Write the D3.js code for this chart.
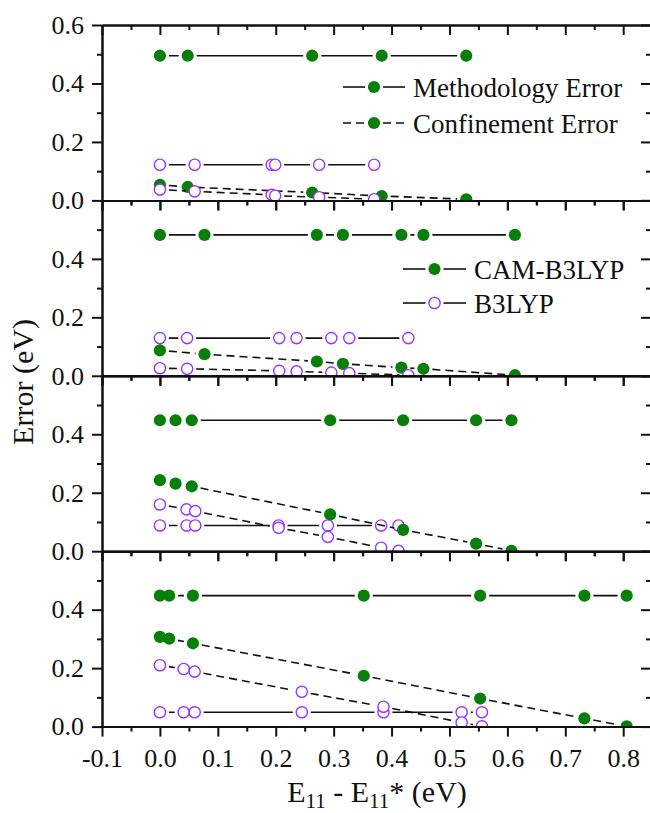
<!DOCTYPE html>
<html>
<head>
<meta charset="utf-8">
<script src="https://cdn.jsdelivr.net/npm/d3@7"></script>
<style>
  body { margin: 0; background: #fff; }
  svg { display: block; font-family: "Liberation Serif", "Times New Roman", serif; }
  .axis path, .axis line { stroke: #111; stroke-width: 2; }
</style>
</head>
<body>
<div id="chart"></div>
<script>
// x positions (E11 - E11*) per panel, top to bottom
var camX = [
  [0, 0.048, 0.263, 0.383, 0.529],
  [0, 0.077, 0.271, 0.316, 0.417, 0.455, 0.613],
  [0, 0.027, 0.055, 0.294, 0.420, 0.546, 0.607],
  [0, 0.016, 0.057, 0.352, 0.553, 0.733, 0.806]
];
var camMethodology = [
  [0.495, 0.495, 0.495, 0.495, 0.495],
  [0.482, 0.482, 0.482, 0.482, 0.482, 0.482, 0.482],
  [0.448, 0.448, 0.448, 0.448, 0.448, 0.448, 0.448],
  [0.448, 0.448, 0.448, 0.448, 0.448, 0.448, 0.448]
];
var camConfinement = [
  [0.053, 0.046, 0.027, 0.015, 0.004],
  [0.087, 0.074, 0.049, 0.041, 0.028, 0.024, 0.002],
  [0.243, 0.231, 0.222, 0.126, 0.073, 0.026, 0.001],
  [0.307, 0.301, 0.285, 0.174, 0.096, 0.028, 0.001]
];
var b3lypX = [
  [0, 0.060, 0.193, 0.199, 0.275, 0.370],
  [0, 0.047, 0.206, 0.236, 0.296, 0.327, 0.429],
  [0, 0.046, 0.061, 0.205, 0.290, 0.382, 0.412],
  [0, 0.041, 0.060, 0.245, 0.386, 0.521, 0.556]
];
var b3lypMethodology = [
  [0.122, 0.122, 0.122, 0.122, 0.122, 0.122],
  [0.129, 0.129, 0.129, 0.129, 0.129, 0.129, 0.129],
  [0.088, 0.088, 0.088, 0.088, 0.088, 0.088, 0.088],
  [0.049, 0.049, 0.049, 0.049, 0.049, 0.049, 0.049]
];
var b3lypConfinement = [
  [0.037, 0.031, 0.019, 0.016, 0.011, 0.004],
  [0.026, 0.024, 0.017, 0.015, 0.011, 0.009, 0.002],
  [0.160, 0.143, 0.137, 0.080, 0.049, 0.012, 0.001],
  [0.210, 0.197, 0.188, 0.119, 0.068, 0.014, 0.001]
];

var xMajor = [-0.1, 0, 0.1, 0.2, 0.3, 0.4, 0.5, 0.6, 0.7, 0.8];
var xMinor = [-0.05, 0.05, 0.15, 0.25, 0.35, 0.45, 0.55, 0.65, 0.75];
var yMajor = [0, 0.2, 0.4, 0.6];
var yMinor = [0.1, 0.3, 0.5];

var W = 650, H = 813;
var plotLeft = 102, plotRight = 651, plotTop = 25, panelH = 175.4;
var green = "#087f08", violet = "#9933ff";
var R = 6.1, GAP = 9;
var serif = "'Liberation Serif', 'Times New Roman', serif";

var svg = d3.select("#chart").append("svg")
  .attr("width", W).attr("height", H);

var x = d3.scaleLinear().domain([-0.1, 0.848]).range([plotLeft, plotRight]);

// one decimal, plain hyphen for negatives
var fmt = function (d) { return d3.format(".1f")(d).replace("\u2212", "-"); };

// line through points, broken around each symbol
function gappedLine(g, pts, dash) {
  for (var i = 0; i < pts.length - 1; i++) {
    var a = pts[i], b = pts[i + 1];
    var dx = b[0] - a[0], dy = b[1] - a[1];
    var d = Math.sqrt(dx * dx + dy * dy);
    if (d <= 2 * GAP) continue;
    var ux = dx / d, uy = dy / d;
    g.append("line")
      .attr("x1", a[0] + ux * GAP).attr("y1", a[1] + uy * GAP)
      .attr("x2", b[0] - ux * GAP).attr("y2", b[1] - uy * GAP)
      .attr("stroke", "#111").attr("stroke-width", 1.6)
      .attr("stroke-dasharray", dash ? "8,5" : null);
  }
}

function symbols(g, pts, filled) {
  g.selectAll(null).data(pts).enter().append("circle")
    .attr("cx", function (d) { return d[0]; })
    .attr("cy", function (d) { return d[1]; })
    .attr("r", filled ? R : 5.6)
    .attr("fill", filled ? green : "#fff")
    .attr("stroke", filled ? "none" : violet)
    .attr("stroke-width", 1.4);
}

function series(g, xs, ys, y, dash, filled) {
  var pts = xs.map(function (v, i) { return [x(v), y(ys[i])]; });
  gappedLine(g, pts, dash);
  symbols(g, pts, filled);
}

function axisGroup(tx, ty, axis) {
  var g = svg.append("g").attr("class", "axis")
    .attr("transform", "translate(" + tx + "," + ty + ")")
    .call(axis);
  g.attr("font-family", serif).attr("font-size", 26);
  g.selectAll("text").attr("fill", "#111");
  return g;
}

camX.forEach(function (xs, p) {
  var y0 = plotTop + p * panelH;
  var y = d3.scaleLinear().domain([0, 0.6]).range([y0 + panelH, y0]);
  var clipId = "clip" + p;
  svg.append("clipPath").attr("id", clipId).append("rect")
    .attr("x", plotLeft).attr("y", y0).attr("width", plotRight - plotLeft).attr("height", panelH);
  var plot = svg.append("g").attr("clip-path", "url(#" + clipId + ")");

  series(plot, camX[p], camMethodology[p], y, false, true);
  series(plot, b3lypX[p], b3lypMethodology[p], y, false, false);
  series(plot, camX[p], camConfinement[p], y, true, true);
  series(plot, b3lypX[p], b3lypConfinement[p], y, true, false);

  // left axis
  axisGroup(plotLeft, 0, d3.axisLeft(y).tickValues(yMinor).tickSize(5).tickSizeOuter(0).tickFormat(""));
  axisGroup(plotLeft, 0, d3.axisLeft(y).tickValues(p === 0 ? yMajor : yMajor.slice(0, 3))
    .tickSize(10).tickSizeOuter(0).tickPadding(8).tickFormat(fmt));
  // right axis, ticks inward
  axisGroup(plotRight, 0, d3.axisRight(y).tickValues(yMinor).tickSize(-5).tickSizeOuter(0).tickFormat(""));
  axisGroup(plotRight, 0, d3.axisRight(y).tickValues(yMajor).tickSize(-10).tickSizeOuter(0).tickFormat(""));
  // top axis, ticks inward
  axisGroup(0, y0, d3.axisTop(x).tickValues(xMinor).tickSize(-5).tickSizeOuter(0).tickFormat(""));
  axisGroup(0, y0, d3.axisTop(x).tickValues(xMajor).tickSize(-10).tickSizeOuter(0).tickFormat(""));
  // bottom axis, ticks outward
  var yb = y0 + panelH;
  axisGroup(0, yb, d3.axisBottom(x).tickValues(xMinor).tickSize(5).tickSizeOuter(0).tickFormat(""));
  axisGroup(0, yb, d3.axisBottom(x).tickValues(xMajor).tickSize(10).tickSizeOuter(0).tickPadding(11.5)
    .tickFormat(p === 3 ? fmt : ""));
});

// legends
var lg = svg.append("g").attr("font-size", 27).attr("fill", "#111");
function legendRow(x1, x2, yy, dash, filled, label) {
  var cx = (x1 + x2) / 2;
  gappedLine(lg, [[x1 - GAP, yy], [cx, yy], [x2 + GAP, yy]], dash);
  symbols(lg, [[cx, yy]], filled);
  lg.append("text").attr("x", x2 + 8).attr("y", yy + 10).text(label);
}
legendRow(343, 405, 87, false, true, "Methodology Error");
legendRow(343, 405, 123, true, true, "Confinement Error");
legendRow(403, 466, 269, false, true, "CAM-B3LYP");
legendRow(403, 466, 303, false, false, "B3LYP");

// axis titles
svg.append("text")
  .attr("transform", "translate(33,382) rotate(-90)")
  .attr("text-anchor", "middle").attr("font-size", 30).attr("fill", "#111")
  .text("Error (eV)");

var xt = svg.append("text")
  .attr("x", 377).attr("y", 802)
  .attr("text-anchor", "middle").attr("font-size", 30).attr("fill", "#111");
xt.append("tspan").text("E");
xt.append("tspan").attr("font-size", 21).attr("dy", 6).text("11");
xt.append("tspan").attr("dy", -6).text(" - E");
xt.append("tspan").attr("font-size", 21).attr("dy", 6).text("11");
xt.append("tspan").attr("dy", -6).text("* (eV)");
</script>
</body>
</html>
